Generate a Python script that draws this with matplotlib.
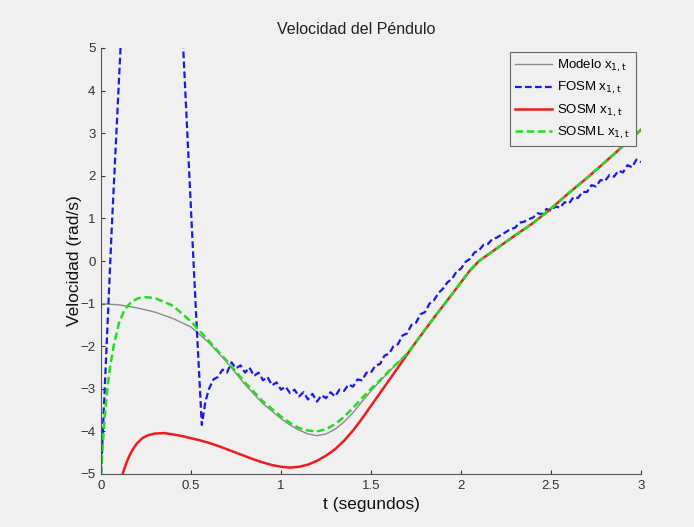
import matplotlib
matplotlib.use("Agg")
import matplotlib.pyplot as plt

plt.rcParams['font.family'] = ['Liberation Sans', 'DejaVu Sans']

# ---- data ----
t_model = [0, 0.1, 0.2, 0.3, 0.4, 0.5, 0.6, 0.7, 0.8, 0.9, 1.0, 1.05, 1.1, 1.15, 1.2, 1.25, 1.3,
           1.35, 1.4, 1.45, 1.5, 1.55, 1.6, 1.65, 1.7, 1.75, 1.85, 1.95, 2.05, 2.1, 2.2, 2.3,
           2.4, 2.5, 2.6, 2.7, 2.8, 2.9, 3.0]
v_model = [-1.0, -1.03, -1.1, -1.2, -1.35, -1.55, -1.92, -2.38, -2.9, -3.35, -3.7, -3.85, -3.97,
           -4.06, -4.1, -4.06, -3.95, -3.78, -3.56, -3.3, -3.05, -2.82, -2.6, -2.39, -2.18,
           -1.9, -1.33, -0.78, -0.22, 0.0, 0.3, 0.6, 0.89, 1.23, 1.6, 1.95, 2.32, 2.7, 3.08]

t_fosm = [0, 0.03, 0.06, 0.09, 0.12, 0.45, 0.5, 0.53, 0.56, 0.58,
          0.600, 0.625, 0.650, 0.675, 0.700, 0.725, 0.750, 0.775, 0.800, 0.825,
          0.850, 0.875, 0.900, 0.925, 0.950, 0.975, 1.000, 1.025, 1.050, 1.075,
          1.100, 1.125, 1.150, 1.175, 1.200, 1.225, 1.250, 1.275, 1.300, 1.325,
          1.350, 1.375, 1.400, 1.425, 1.450, 1.475, 1.500, 1.525, 1.550, 1.575,
          1.600, 1.625, 1.650, 1.675, 1.700, 1.725, 1.750, 1.775, 1.800, 1.825,
          1.850, 1.875, 1.900, 1.925, 1.950, 1.975, 2.000, 2.025, 2.050, 2.075,
          2.100, 2.125, 2.150, 2.175, 2.200, 2.225, 2.250, 2.275, 2.300, 2.325,
          2.350, 2.375, 2.400, 2.425, 2.450, 2.475, 2.500, 2.525, 2.550, 2.575,
          2.600, 2.625, 2.650, 2.675, 2.700, 2.725, 2.750, 2.775, 2.800, 2.825,
          2.850, 2.875, 2.900, 2.925, 2.950, 2.975, 3.000]
v_fosm = [-5.0, -2.1, 0.8, 3.4, 6.0, 5.6, 1.2, -1.4, -3.85, -3.3,
          -3.00, -2.78, -2.72, -2.55, -2.62, -2.38, -2.52, -2.45, -2.62, -2.50,
          -2.70, -2.62, -2.80, -2.72, -2.92, -2.85, -3.02, -2.95, -3.10, -3.02,
          -3.18, -3.08, -3.25, -3.12, -3.30, -3.15, -3.22, -3.08, -3.18, -3.02,
          -3.05, -2.90, -2.95, -2.78, -2.80, -2.62, -2.62, -2.45, -2.42, -2.22,
          -2.18, -2.00, -1.95, -1.75, -1.70, -1.50, -1.45, -1.25, -1.20, -1.00,
          -0.92, -0.75, -0.65, -0.50, -0.42, -0.25, -0.18, -0.02, 0.05, 0.20,
          0.25, 0.38, 0.40, 0.52, 0.55, 0.62, 0.68, 0.75, 0.78, 0.90,
          0.92, 0.98, 1.02, 1.12, 1.10, 1.22, 1.18, 1.28, 1.25, 1.38,
          1.35, 1.50, 1.48, 1.62, 1.62, 1.78, 1.75, 1.90, 1.88, 2.02,
          1.98, 2.12, 2.08, 2.25, 2.20, 2.38, 2.32]

t_sosm = [0, 0.06, 0.10, 0.12, 0.14, 0.16, 0.18, 0.20, 0.23, 0.26, 0.30, 0.35, 0.40, 0.45,
          0.50, 0.55, 0.60, 0.65, 0.70, 0.75, 0.80, 0.85, 0.90, 0.95, 1.00, 1.05, 1.10, 1.15,
          1.20, 1.25, 1.30, 1.35, 1.40, 1.45, 1.50, 1.55, 1.60, 1.65, 1.70, 1.75, 1.85, 1.95,
          2.05, 2.1, 2.2, 2.3, 2.4, 2.5, 2.6, 2.7, 2.8, 2.9, 3.0]
v_sosm = [-7.0, -6.0, -5.3, -5.0, -4.75, -4.55, -4.40, -4.28, -4.16, -4.09, -4.05, -4.04, -4.07,
          -4.11, -4.16, -4.21, -4.27, -4.34, -4.42, -4.50, -4.58, -4.66, -4.73, -4.79, -4.83,
          -4.85, -4.83, -4.78, -4.69, -4.57, -4.42, -4.22, -3.98, -3.70, -3.40, -3.10, -2.80,
          -2.50, -2.20, -1.9, -1.33, -0.78, -0.22, 0.0, 0.3, 0.6, 0.89, 1.23, 1.6, 1.95, 2.32,
          2.7, 3.08]

t_sosml = [0, 0.01, 0.02, 0.035, 0.05, 0.07, 0.1, 0.13, 0.17, 0.21, 0.25, 0.3, 0.4, 0.5, 0.6,
           0.7, 0.8, 0.9, 1.0, 1.05, 1.1, 1.15, 1.2, 1.25, 1.3, 1.35, 1.4, 1.45, 1.5, 1.55,
           1.6, 1.65, 1.7, 1.75, 1.85, 1.95, 2.05, 2.1, 2.2, 2.3, 2.4, 2.5, 2.6, 2.7, 2.8, 2.9,
           3.0]
v_sosml = [-5.0, -4.3, -3.7, -3.0, -2.5, -2.0, -1.45, -1.15, -0.95, -0.87, -0.85, -0.87, -1.05,
           -1.42, -1.88, -2.35, -2.85, -3.3, -3.65, -3.8, -3.92, -3.98, -4.0, -3.95, -3.83,
           -3.66, -3.45, -3.22, -3.0, -2.8, -2.58, -2.38, -2.18, -1.9, -1.33, -0.78, -0.22,
           0.0, 0.3, 0.6, 0.89, 1.23, 1.6, 1.95, 2.32, 2.7, 3.08]

labels = ['Modelo x$_{\\mathrm{1,t}}$', 'FOSM x$_{\\mathrm{1,t}}$',
          'SOSM x$_{\\mathrm{1,t}}$', 'SOSML x$_{\\mathrm{1,t}}$']
x_ticks = [0, 0.5, 1, 1.5, 2, 2.5, 3]
x_ticklabels = ['0', '0.5', '1', '1.5', '2', '2.5', '3']
y_ticks = [-5, -4, -3, -2, -1, 0, 1, 2, 3, 4, 5]

# ---- figure ----
bg = '#f0f0f0'
fig = plt.figure(figsize=(6.94, 5.27), dpi=100, facecolor=bg)
ax = fig.add_axes([101/694, 1 - 474/527, (641 - 101)/694, (474 - 48)/527])
ax.set_facecolor(bg)

ax.plot(t_model, v_model, color='#8a8a8a', lw=1.0, label=labels[0])
ax.plot(t_fosm, v_fosm, color='#1a1ae0', lw=1.6, ls=(0, (3, 1.5)), label=labels[1])
ax.plot(t_sosm, v_sosm, color='#ee1c1c', lw=1.8, label=labels[2])
ax.plot(t_sosml, v_sosml, color='#22dd22', lw=1.8, ls=(0, (3, 1.5)), label=labels[3])

ax.set_xlim(0, 3)
ax.set_ylim(-5, 5)
ax.set_xticks(x_ticks)
ax.set_xticklabels(x_ticklabels)
ax.set_yticks(y_ticks)
ax.tick_params(direction='in', length=3, labelsize=9.5, colors='#333333', pad=4)
for s in ['top', 'right']:
    ax.spines[s].set_visible(False)
for s in ['left', 'bottom']:
    ax.spines[s].set_color('#555555')
    ax.spines[s].set_linewidth(0.8)

ax.set_title('Velocidad del Péndulo', fontsize=11.5, color='#222222', pad=10, x=0.472)
ax.set_xlabel('t (segundos)', fontsize=12.5, color='#111111', labelpad=4)
ax.set_ylabel('Velocidad (rad/s)', fontsize=12.5, color='#111111', labelpad=-1)

leg = ax.legend(loc='upper right', bbox_to_anchor=(0.99, 0.99), borderaxespad=0.0,
                fontsize=9.5, fancybox=False, framealpha=1, facecolor=bg,
                edgecolor='#666666', handlelength=2.8, handletextpad=0.4,
                labelspacing=0.45, borderpad=0.4)
leg.get_frame().set_linewidth(0.8)

fig.savefig('out.png', dpi=100, facecolor=bg)
